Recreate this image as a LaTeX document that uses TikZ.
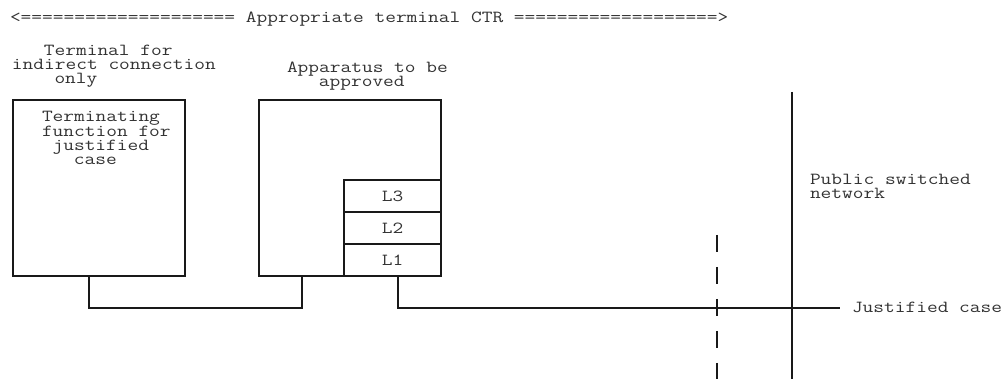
\documentclass[tikz,border=0pt]{standalone}
\usepackage{fontspec}
\newfontfamily\courfont{Latin Modern Mono}[FakeStretch=1.232]
\usetikzlibrary{calc}

\tikzset{
  txt/.style={anchor=base west, inner sep=0pt, outer sep=0pt,
              font=\courfont\fontsize{16.9}{14}\selectfont, text=black!80},
  ctxt/.style={inner sep=0pt, outer sep=0pt,
              font=\courfont\fontsize{16.9}{14}\selectfont, text=black!80},
  box/.style={draw=black!90, line width=1.2pt, inner sep=0pt, outer sep=0pt},
  wire/.style={draw=black!90, line width=1.2pt},
  cut/.style={draw=black!90, line width=1.2pt, dash pattern=on 17pt off 15pt}
}

\begin{document}
\begin{tikzpicture}[x=1pt, y=-1pt]
  \useasboundingbox (0,0) rectangle (1002,379);

  % heading across the top
  \node[txt] (ctr) at (10,23) {<==================== Appropriate terminal CTR ===================>};

  % captions above the two units
  \node[txt] (capA1) at (43.9,56) {Terminal for};
  \node[txt] (capA2) at (12,70) {indirect connection};
  \node[txt] (capA3) at (54.5,84) {only};
  \node[txt] (capB1) at (287,73) {Apparatus to be};
  \node[txt] (capB2) at (318.9,87) {approved};

  % terminal for indirect connection
  \node[box, minimum width=172pt, minimum height=176pt] (term) at (99,188) {};
  \node[txt] (tf1) at (42,122) {Terminating};
  \node[txt] (tf2) at (42,136.3) {function for};
  \node[txt] (tf3) at (52.6,150.6) {justified};
  \node[txt] (tf4) at (73.9,164.9) {case};

  % apparatus with its protocol layers
  \node[box, minimum width=182pt, minimum height=176pt] (app) at (350,188) {};
  \node[box, ctxt, minimum width=97pt, minimum height=32pt] (L3) at (392.5,196) {L3};
  \node[box, ctxt, minimum width=97pt, minimum height=32pt] (L2) at (392.5,228) {L2};
  \node[box, ctxt, minimum width=97pt, minimum height=32pt] (L1) at (392.5,260) {L1};

  % network side
  \node[txt] (psn1) at (810,185) {Public switched};
  \node[txt] (psn2) at (810,199) {network};
  \node[txt] (just) at (852,313) {Justified case};

  \coordinate (lineEnd) at (840,308);
  \coordinate (cutTop) at (717,235);
  \coordinate (cutBot) at (717,379);
  \coordinate (netTop) at (792,92);
  \coordinate (netBot) at (792,379);

  % interconnections
  \draw[wire] ([xshift=76pt]term.south west) -- ++(0,32) -| ([xshift=43pt]app.south west);
  \draw[wire] ([xshift=5.5pt]L1.south) -- ++(0,32) -- (lineEnd);

  % boundaries
  \draw[cut] (cutTop) -- (cutBot);
  \draw[wire] (netTop) -- (netBot);
\end{tikzpicture}
\end{document}
